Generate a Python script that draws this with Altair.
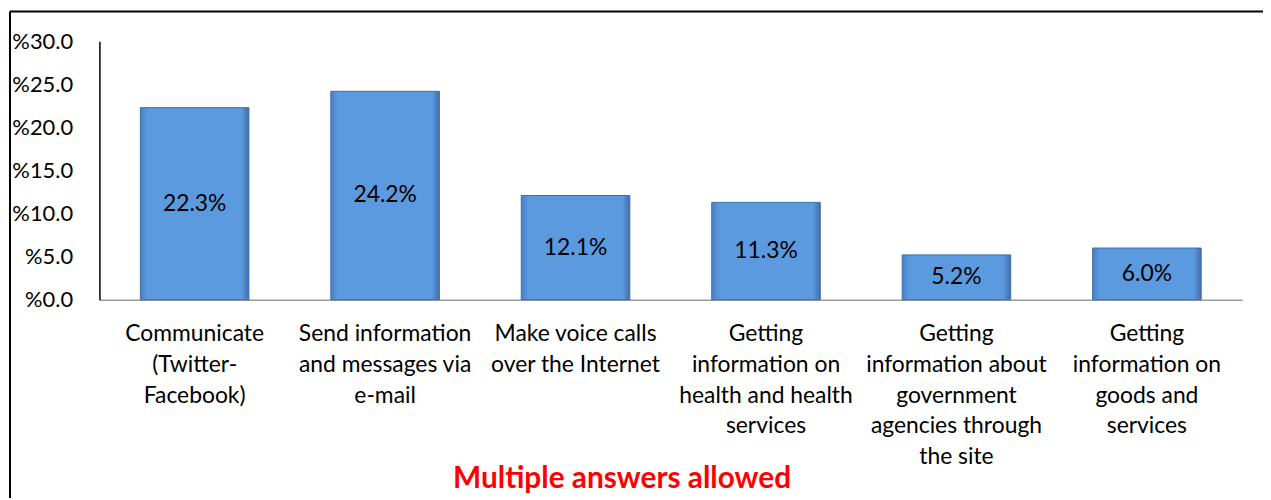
import altair as alt
import pandas as pd

categories = [
    "Communicate\n(Twitter-\nFacebook)",
    "Send information\nand messages via\ne-mail",
    "Make voice calls\nover the Internet",
    "Getting\ninformation on\nhealth and health\nservices",
    "Getting\ninformation about\ngovernment\nagencies through\nthe site",
    "Getting\ninformation on\ngoods and\nservices",
]
values = [22.3, 24.2, 12.1, 11.3, 5.2, 6.0]
y_ticks = [0, 5, 10, 15, 20, 25, 30]
note = "Multiple answers allowed"

df = pd.DataFrame({"cat": categories, "val": values,
                   "lbl": [f"{v:.1f}%" for v in values]})

FONT = "Lato"
W, H = 1150, 260

xenc = alt.X("cat:N", sort=categories, title=None,
             scale=alt.Scale(paddingInner=0.43, paddingOuter=0.215),
             axis=alt.Axis(labelAngle=0, labelExpr="split(datum.label, '\\n')",
                           labelFontSize=23, labelFont=FONT, labelColor="#000",
                           labelLineHeight=31, labelBaseline="top", labelPadding=23,
                           ticks=False, domainColor="#999", domainWidth=1.5,
                           labelLimit=400))
yenc = alt.Y("val:Q", title=None,
             scale=alt.Scale(domain=[0, 30], nice=False),
             axis=alt.Axis(values=y_ticks, labelExpr="'%' + format(datum.value, '.1f')",
                           labelFontSize=22, labelFont=FONT, labelColor="#000",
                           labelPadding=27, ticks=False, grid=False,
                           domainColor="#000", domainWidth=1.5))

grad = alt.Gradient(gradient="linear", x1=0, x2=1, y1=0, y2=0, stops=[
    alt.GradientStop(color="#4a80c4", offset=0),
    alt.GradientStop(color="#5c9ae0", offset=0.07),
    alt.GradientStop(color="#5c9ae0", offset=0.93),
    alt.GradientStop(color="#3f6ea8", offset=1),
])

bars = alt.Chart(df).mark_bar(color=grad, stroke="#3e6ea6", strokeWidth=1).encode(x=xenc, y=yenc)

labels = alt.Chart(df).transform_calculate(mid="datum.val / 2").mark_text(
    font=FONT, fontSize=23, color="#000").encode(
    x=alt.X("cat:N", sort=categories), y=alt.Y("mid:Q"), text="lbl:N")

note_df = pd.DataFrame({"t": [note]})
note_mark = alt.Chart(note_df).mark_text(
    font=FONT, fontSize=30, fontWeight="bold", color="#ff0000", baseline="middle").encode(
    x=alt.value(526), y=alt.value(441), text="t:N")

frame_left = alt.Chart(note_df).mark_rule(color="#000", strokeWidth=2).encode(
    x=alt.value(-90), y=alt.value(-30), y2=alt.value(470))
frame_top = alt.Chart(note_df).mark_rule(color="#000", strokeWidth=2).encode(
    x=alt.value(-90), x2=alt.value(1180), y=alt.value(-30))

chart = alt.layer(bars, labels, note_mark, frame_left, frame_top).properties(
    width=W, height=H,
    padding={"left": 92, "top": 32, "right": 21, "bottom": 198},
    autosize=alt.AutoSizeParams(type="none"),
    view=alt.ViewBackground(stroke="transparent", strokeWidth=0),
).configure_view(strokeWidth=0, stroke="transparent").configure(background="white")

chart.save("out.html", embed_options={"renderer": "svg", "actions": False})
